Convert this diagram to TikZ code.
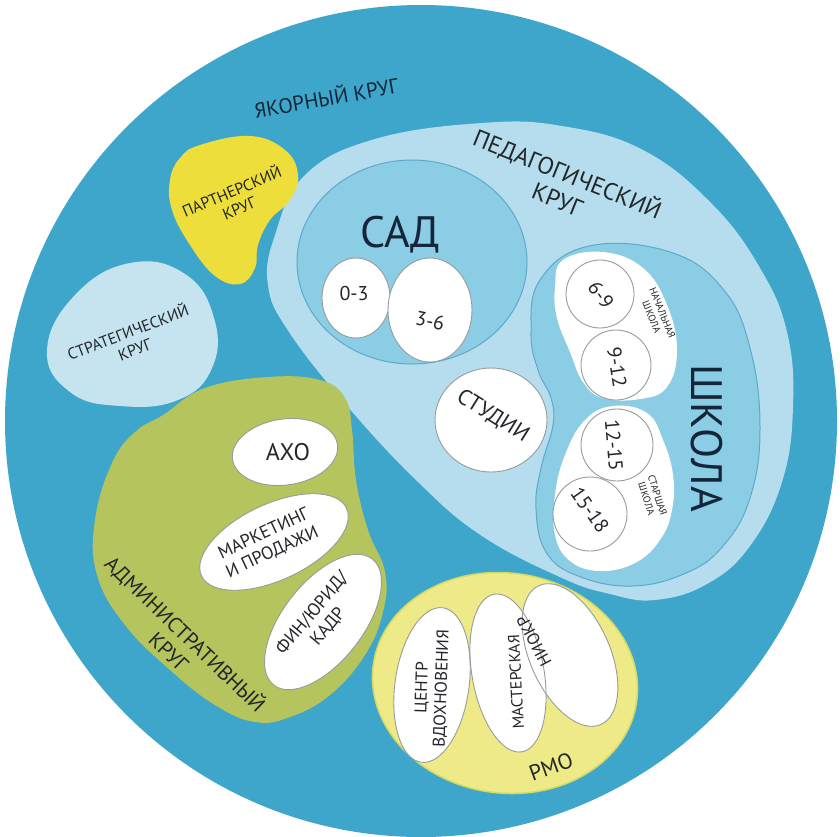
\documentclass[tikz,border=0pt]{standalone}
\usepackage{fontspec}
\setmainfont{PT Sans}
\definecolor{anchorblue}{RGB}{62,166,202}
\definecolor{pedblue}{RGB}{181,221,237}
\definecolor{midblue}{RGB}{140,205,230}
\definecolor{midline}{RGB}{95,168,203}
\definecolor{stratblue}{RGB}{198,228,240}
\definecolor{partyellow}{RGB}{238,222,60}
\definecolor{admgreen}{RGB}{181,196,92}
\definecolor{rmoyellow}{RGB}{238,234,135}
\definecolor{rmoline}{RGB}{212,216,100}
\definecolor{wline}{RGB}{150,155,158}
\definecolor{txt}{RGB}{35,38,42}
\definecolor{navy}{RGB}{22,38,58}
\newcommand\myfs[1]{\fontsize{#1}{1.15\dimexpr #1pt\relax}\selectfont}
\tikzset{
  lbl/.style={text=txt, inner sep=0pt, align=center},
  wdraw/.style={draw=wline, line width=0.9pt},
  whiteshape/.style={fill=white, draw=wline, line width=0.9pt},
}
\begin{document}
\begin{tikzpicture}[x=1pt,y=-1pt]
\useasboundingbox (0,0) rectangle (840,836);
\fill[white] (0,0) rectangle (840,836);
% anchor circle
\fill[anchorblue] (421,421) circle[radius=416pt];
% pedagogical region
\fill[pedblue] plot[smooth cycle, tension=0.7] coordinates {
 (275,235) (305,175) (375,139) (482,123) (562,126) (643,150) (712,204)
 (760,268) (787,332) (793,407) (782,482) (750,546) (707,584) (655,600)
 (610,594) (562,578) (482,536) (418,482) (348,407) (289,332) (268,285)};
% sad
\filldraw[fill=midblue, draw=midline, line width=1pt] (412,262) ellipse[x radius=115pt, y radius=102pt];
% school
\filldraw[fill=midblue, draw=midline, line width=1pt] plot[smooth cycle, tension=0.7] coordinates {
 (589,246) (670,252) (723,289) (750,348) (760,428) (750,498) (723,546)
 (686,573) (632,586) (578,576) (546,552) (536,509) (541,468) (553,425)
 (551,398) (538,370) (531,332) (540,280)};
% sad ellipses
\draw[whiteshape] (356,298) ellipse[x radius=34pt, y radius=40pt];
\draw[whiteshape] (430,310) ellipse[x radius=42pt, y radius=52pt];
% studii
\draw[whiteshape] (491,420) ellipse[x radius=56pt, y radius=52pt];
% primary school blob
\fill[white] plot[smooth cycle, tension=0.7] coordinates {
 (563,260) (603,252) (643,268) (667,305) (677,350) (667,387) (640,399)
 (603,398) (583,382) (570,352) (557,318) (555,287)};
\draw[whiteshape] (600,294) circle[radius=34pt];
\draw[whiteshape] (616,365) circle[radius=35pt];
% senior school blob
\fill[white] plot[smooth cycle, tension=0.7] coordinates {
 (613,406) (647,413) (663,440) (673,475) (672,510) (660,540) (635,563)
 (600,571) (570,561) (555,535) (555,495) (565,455) (585,420)};
\draw[whiteshape] (617,445) circle[radius=36pt];
\draw[whiteshape] (590,514) circle[radius=37pt];
% partner
\fill[partyellow] plot[smooth cycle, tension=0.7] coordinates {
 (200,145) (250,136) (285,150) (298,175) (290,200) (270,220) (258,245)
 (255,268) (240,284) (215,276) (190,245) (172,210) (170,180) (180,158)};
% strategic
\fill[stratblue] plot[smooth cycle, tension=0.75] coordinates {
 (75,295) (130,263) (185,274) (214,318) (212,368) (178,400) (120,406)
 (70,392) (47,350)};
% admin
\fill[admgreen] plot[smooth cycle, tension=0.7] coordinates {
 (163,415) (205,388) (268,377) (320,380) (345,398) (352,430) (356,480)
 (368,530) (385,572) (383,612) (365,655) (330,695) (290,717) (255,722)
 (215,705) (170,670) (125,625) (97,575) (95,520) (112,463) (135,432)};
\draw[whiteshape, rotate around={8:(285,452)}] (285,452) ellipse[x radius=53pt, y radius=33pt];
\draw[whiteshape, rotate around={25:(274,542)}] (274,542) ellipse[x radius=80pt, y radius=38pt];
\draw[whiteshape, rotate around={52:(323,622)}] (323,622) ellipse[x radius=80pt, y radius=40pt];
% RMO
\filldraw[fill=rmoyellow, draw=rmoline, line width=1.5pt, rotate around={-8:(505,683)}] (505,683) ellipse[x radius=133pt, y radius=110pt];
\fill[white, rotate around={-8:(432,685)}] (432,685) ellipse[x radius=37pt, y radius=78pt];
\fill[white, rotate around={10:(508,673)}] (508,673) ellipse[x radius=36pt, y radius=80pt];
\fill[white, rotate around={24:(570,655)}] (570,655) ellipse[x radius=40pt, y radius=76pt];
\draw[wdraw, rotate around={-8:(432,685)}] (432,685) ellipse[x radius=37pt, y radius=78pt];
\draw[wdraw, rotate around={10:(508,673)}] (508,673) ellipse[x radius=36pt, y radius=80pt];
\draw[wdraw, rotate around={24:(570,655)}] (570,655) ellipse[x radius=40pt, y radius=76pt];
% texts
\node[lbl, text=navy, rotate=10, font=\myfs{21}] (yak) at (326,97) {ЯКОРНЫЙ КРУГ};
\node[lbl, rotate=-22, font=\myfs{24}] (ped) at (563,185) {ПЕДАГОГИЧЕСКИЙ\\КРУГ};
\node[lbl, text=navy, font=\myfs{44}] (sad) at (400,235) {САД};
\node[lbl, font=\myfs{20}] (a03) at (354,293) {0-3};
\node[lbl, rotate=-12, font=\myfs{20}] (a36) at (430,321) {3-6};
\node[lbl, rotate=-32, font=\myfs{22}] (stud) at (493,416) {СТУДИИ};
\node[lbl, rotate=-55, font=\myfs{20}] (a69) at (601,295) {6-9};
\node[lbl, rotate=-81, font=\myfs{20}] (a912) at (617,367) {9-12};
\node[lbl, rotate=-85, font=\myfs{20}] (a1215) at (614,445) {12-15};
\node[lbl, rotate=-55, font=\myfs{20}] (a1518) at (590,510) {15-18};
\node[lbl, rotate=-68, font=\myfs{10}] (nach) at (657,315) {НАЧАЛЬНАЯ\\ШКОЛА};
\node[lbl, rotate=-72, font=\myfs{10}] (star) at (652,497) {СТАРШАЯ\\ШКОЛА};
\node[lbl, text=navy, rotate=-90, font=\myfs{44}] (shk) at (707,438) {ШКОЛА};
\node[lbl, rotate=23, font=\myfs{16}] (part) at (235,199) {ПАРТНЕРСКИЙ\\КРУГ};
\node[lbl, rotate=21, font=\myfs{16}] (strat) at (131,340) {СТРАТЕГИЧЕСКИЙ\\КРУГ};
\node[lbl, font=\myfs{24}] (aho) at (288,452) {АХО};
\node[lbl, rotate=25, font=\myfs{18}] (mark) at (268,543) {МАРКЕТИНГ\\И ПРОДАЖИ};
\node[lbl, rotate=50, font=\myfs{18}] (fin) at (320,620) {ФИН/ЮРИД/\\КАДР};
\node[lbl, rotate=-44, font=\myfs{21}] (adm) at (178,642) {АДМИНИСТРАТИВНЫЙ\\КРУГ};
\node[lbl, rotate=88, font=\myfs{17}] (cvd) at (432,688) {ЦЕНТР\\ВДОХНОВЕНИЯ};
\node[lbl, rotate=93, font=\myfs{16}] (mast) at (516,682) {МАСТЕРСКАЯ};
\node[lbl, rotate=118, font=\myfs{17}] (niokr) at (534,641) {НИОКР};
\node[lbl, rotate=20, font=\myfs{22}] (rmo) at (551,767) {РМО};
\end{tikzpicture}
\end{document}
